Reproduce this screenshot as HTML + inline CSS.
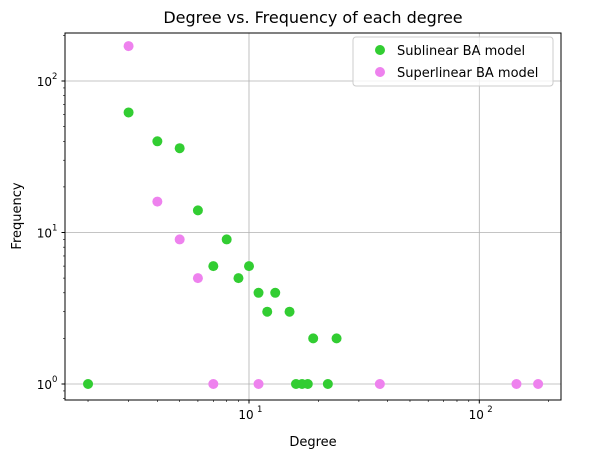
<!DOCTYPE html>
<html><head><meta charset="utf-8"><style>
body{margin:0;background:#fff;}
svg text{font-family:"DejaVu Sans","Liberation Sans",sans-serif;fill:#000;}
</style></head><body>
<svg id="chart" width="609" height="459" xmlns="http://www.w3.org/2000/svg">
<text x="313" y="23" font-size="16" text-anchor="middle">Degree vs. Frequency of each degree</text>
<g id="grid"></g><g id="ticks"></g><g id="marks"></g>
<rect x="65" y="33" width="496" height="367" fill="none" stroke="#000" stroke-width="1"/>
<text x="313" y="446" font-size="13" text-anchor="middle">Degree</text>
<text transform="translate(21,216) rotate(-90)" font-size="13" text-anchor="middle">Frequency</text>
<g>
<rect x="353" y="37" width="200" height="49" rx="3" fill="#fff" fill-opacity="0.8" stroke="#ccc"/>
<circle cx="380" cy="50" r="5" fill="#32cd32"/>
<text x="397" y="55" font-size="13">Sublinear BA model</text>
<circle cx="380" cy="72" r="5" fill="#ee82ee"/>
<text x="397" y="77" font-size="13">Superlinear BA model</text>
</g>
</svg>
<script>
const subX=[2,3,4,5,6,7,8,9,10,11,12,13,15,16,17,18,19,22,24];
const subY=[1,62,40,36,14,6,9,5,6,4,3,4,3,1,1,1,2,1,2];
const supX=[3,4,5,6,7,11,37,145,180];
const supY=[170,16,9,5,1,1,1,1,1];
const xMajor=[10,100];
const yMajor=[1,10,100];
const xLabels=["10","10"];
const yLabels=["10","10","10"];
const yExp=["0","1","2"];
function sx(v){return 18.7+230.3*Math.log10(v);}
function sy(v){return 384-151.5*Math.log10(v);}
const NS="http://www.w3.org/2000/svg";
function mk(t,a,p){const e=document.createElementNS(NS,t);for(const k in a)e.setAttribute(k,a[k]);document.getElementById(p).appendChild(e);return e;}
xMajor.forEach((v,i)=>{
 const g=mk('line',{x1:sx(v),x2:sx(v),y1:33,y2:400,stroke:'#b0b0b0','stroke-width':0.8},'grid');
 
 
 mk('line',{x1:sx(v),x2:sx(v),y1:400,y2:403.5,stroke:'#000'},'ticks');
 const t=mk('text',{x:sx(v)-3,y:419,'font-size':12,'text-anchor':'middle'},'ticks');
 
 
 t.textContent=xLabels[i];
 const s=mk('text',{x:sx(v)+8,y:412,'font-size':8.5},'ticks');s.textContent=String(i+1);
});
yMajor.forEach((v,i)=>{
 const g=mk('line',{x1:65,x2:561,y1:sy(v),y2:sy(v),stroke:'#b0b0b0','stroke-width':0.8},'grid');
 
 
 mk('line',{x1:61.5,x2:65,y1:sy(v),y2:sy(v),stroke:'#000'},'ticks');
 const t=mk('text',{x:52,y:sy(v)+5,'font-size':12,'text-anchor':'end'},'ticks');
 
 
 t.textContent=yLabels[i];
 const s=mk('text',{x:52,y:sy(v)-2,'font-size':8.5},'ticks');s.textContent=yExp[i];
});
for(let d=1;d<=100;d*=10)for(let k=2;k<=9;k++){const v=d*k;const x=sx(v);if(x>65&&x<561)mk('line',{x1:x,x2:x,y1:400,y2:402,stroke:'#000','stroke-width':0.6},'ticks');}
for(let d=0.1;d<=100;d*=10)for(let k=2;k<=9;k++){const v=d*k;const y=sy(v);if(y>33&&y<400)mk('line',{x1:63,x2:65,y1:y,y2:y,stroke:'#000','stroke-width':0.6},'ticks');}
subX.forEach((v,i)=>{const c=mk('circle',{cx:sx(v),cy:sy(subY[i]),r:5,fill:'#32cd32'},'marks');
 
 });
supX.forEach((v,i)=>{const c=mk('circle',{cx:sx(v),cy:sy(supY[i]),r:5,fill:'#ee82ee'},'marks');
 
 });
</script>
</body></html>
